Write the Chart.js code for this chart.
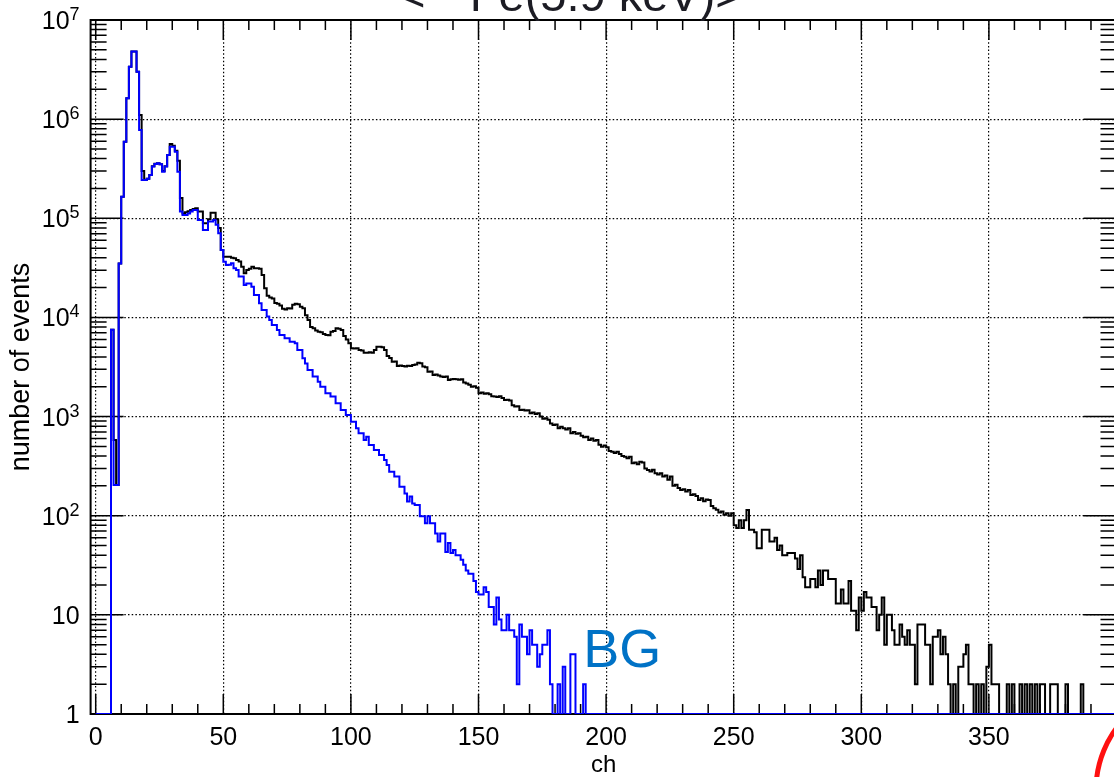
<!DOCTYPE html>
<html>
<head>
<meta charset="utf-8">
<title>number of events vs ch</title>
<script src="https://cdn.jsdelivr.net/npm/chart.js@4.4.1/dist/chart.umd.min.js"></script>
<style>
  html, body { margin: 0; padding: 0; background: #fff; overflow: hidden; }
  #wrap { position: relative; width: 1122px; height: 777px; }
</style>
</head>
<body>
<div id="wrap"><canvas id="specChart"></canvas></div>
<script>
// counts per channel, ch 0..399 (black = all events)
const allCounts = [
  0,0,0,0,0,0,7500,580,204,35000,
  165000,593000,1620000,3380000,4800000,4800000,3000000,1100000,300000,243000,
  250000,274000,335000,355000,360000,350000,300000,335000,435000,560000,
  540000,480000,380000,160000,112000,115000,118000,121000,124000,126000,
  117000,117000,89000,89000,98000,114000,114000,98000,80000,48000,
  41000,41000,41000,40000,39500,38000,36600,32500,27900,30100,
  31000,32500,31300,31300,31000,26800,19700,16500,15900,15500,
  14000,13700,13200,12200,12000,12400,12300,13400,13700,13600,
  12800,12400,10500,9420,8000,7770,7400,7190,7100,6800,
  6650,6600,7190,7300,7770,7700,7470,6500,6000,5480,
  4880,4850,4880,4700,4650,4410,4400,4450,4410,4700,
  5070,5070,5000,4700,4080,3900,3580,3600,3240,3280,
  3240,3200,3250,3240,3320,3350,3500,3450,3200,3150,
  2840,2850,2630,2650,2600,2530,2500,2530,2340,2380,
  2400,2380,2350,2380,2200,2160,2100,2000,2020,1950,
  1720,1750,1700,1720,1680,1600,1590,1580,1600,1540,
  1470,1480,1450,1300,1260,1270,1165,1170,1150,1160,
  1080,1100,1060,1080,1000,952,960,930,850,822,
  830,761,790,761,740,761,678,700,670,678,
  640,620,627,580,600,570,580,520,497,510,
  490,450,443,430,443,420,400,394,380,394,
  338,345,330,351,345,300,289,280,290,268,
  260,268,248,255,230,248,200,205,190,182,
  185,175,182,162,165,158,144,150,140,146,
  144,125,119,115,108,110,102,106,100,106,
  80,75,90,75,90,114,72,72,68,47,
  47,72,72,72,55,55,60,45,50,40,
  40,42,42,42,37,29,40,24,19,19,
  23,23,19,28,20,28,28,23,23,23,
  13,13,18,13,13,22,11,11,7,15,
  11,17,15,15,12,12,7,10,15,5,
  10,10,7,5,5,8,6,5,7,5,
  5,2,8,8,8,5,5,2,6,6,
  7,4,6,4,2,1,2,1,3,3,
  4,5,2,2,1,2,1,2,1,3,
  5,2,2,2,1,1,1,2,1,2,
  1,1,2,1,2,1,2,1,2,1,
  2,2,1,1,2,2,2,1,1,1,
  2,1,1,1,1,1,2,1,1,1,
  1,1,1,1,1,1,1,1,1,1
];

// background run (blue, "BG"), ch 0..399
const bgCounts = [
  0,0,0,0,0,0,7500,204,204,35000,
  165000,593000,1620000,3380000,4800000,4800000,3000000,778000,243000,243000,
  250000,274000,332000,353000,360000,350000,295000,332000,435000,528000,
  528000,470000,295000,117000,108000,108000,112000,117000,121000,121000,
  96000,96000,76000,76000,93000,93000,96000,86000,70600,48000,
  36500,33800,34000,35200,31300,30100,25800,25800,21200,22000,
  22000,20400,16800,16800,13900,11900,11900,10200,9420,8390,
  8390,7470,6650,6650,6160,6160,5700,5700,5480,4700,
  4700,3870,3440,2950,2950,2530,2530,2250,2000,2000,
  1720,1720,1590,1590,1360,1360,1165,1165,1038,1038,
  889,889,761,678,678,580,627,517,517,460,
  460,410,410,365,325,278,278,248,248,196,
  196,168,139,156,133,128,128,99,99,84,
  99,84,84,66,55,66,66,43,53,42,
  45,40,40,36,32,28,26,26,22,17,
  16,16,19,17,12,12,8,15,9,7,
  7,10,7,7,6,2,8,6,6,4,
  7,5,5,3,4,5,5,7,2,0,
  0,2,0,3,0,0,4,4,0,0,
  0,2,0,0,0,0,0,0,0,0,
  0,0,0,0,0,0,0,0,0,0, 0,0,0,0,0,0,0,0,0,0,
  0,0,0,0,0,0,0,0,0,0, 0,0,0,0,0,0,0,0,0,0,
  0,0,0,0,0,0,0,0,0,0, 0,0,0,0,0,0,0,0,0,0,
  0,0,0,0,0,0,0,0,0,0, 0,0,0,0,0,0,0,0,0,0,
  0,0,0,0,0,0,0,0,0,0, 0,0,0,0,0,0,0,0,0,0,
  0,0,0,0,0,0,0,0,0,0, 0,0,0,0,0,0,0,0,0,0,
  0,0,0,0,0,0,0,0,0,0, 0,0,0,0,0,0,0,0,0,0,
  0,0,0,0,0,0,0,0,0,0, 0,0,0,0,0,0,0,0,0,0,
  0,0,0,0,0,0,0,0,0,0, 0,0,0,0,0,0,0,0,0,0,
  0,0,0,0,0,0,0,0,0,0, 0,0,0,0,0,0,0,0,0,0
];

const xTickValues = [0, 50, 100, 150, 200, 250, 300, 350];
const yTickValues = [1, 10, 100, 1000, 10000, 100000, 1000000, 10000000];

const FONT = '"Liberation Sans", Arial, Helvetica, sans-serif';
const X_MIN = -2, X_MAX = 400, Y_MIN = 1, Y_MAX = 1e7;

// empty bins sit on the frame floor like ROOT draws them
function toSteps(counts){
    const pts = counts.map((v, i) => ({ x: i, y: Math.max(v, Y_MIN) }));
    pts.push({ x: counts.length, y: Math.max(counts[counts.length - 1], Y_MIN) });
    return pts;
}

// frame + inward ticks on all four sides
const frameTicks = {
    id: 'frameTicks',
    beforeDatasetsDraw(chart){
        const { ctx, chartArea: a, scales: { x, y } } = chart;
        ctx.save();
        ctx.strokeStyle = '#000';
        ctx.lineWidth = 1.5;
        ctx.beginPath();
        for(let v = 0; v < X_MAX; v += 10){
            const px = x.getPixelForValue(v);
            const len = v % 50 === 0 ? 20 : 10;
            ctx.moveTo(px, a.bottom); ctx.lineTo(px, a.bottom - len);
            ctx.moveTo(px, a.top); ctx.lineTo(px, a.top + len);
        }
        for(let d = 1; d < Y_MAX; d *= 10){
            for(let m = 1; m <= 9; m++){
                const py = y.getPixelForValue(d * m);
                const len = m === 1 ? 33 : 16;
                ctx.moveTo(a.left, py); ctx.lineTo(a.left + len, py);
                ctx.moveTo(a.right, py); ctx.lineTo(a.right - len, py);
            }
        }
        ctx.stroke();
        ctx.lineWidth = 2;
        ctx.strokeRect(a.left, a.top, a.right - a.left, a.bottom - a.top);
        ctx.restore();
    }
};

// y labels with real superscripts, header, BG tag, red marker
const annotations = {
    id: 'annotations',
    afterDraw(chart){
        const { ctx, chartArea: a, scales: { x, y } } = chart;
        ctx.save();
        ctx.fillStyle = '#000';
        ctx.textBaseline = 'alphabetic';
        ctx.textAlign = 'right';
        const right = a.left - 11;
        yTickValues.forEach(v => {
            const base = y.getPixelForValue(v) + 9;
            const e = Math.round(Math.log10(v));
            ctx.font = '25px ' + FONT;
            if(e <= 1){ ctx.fillText(String(v), right, base); return; }
            ctx.font = '18px ' + FONT;
            const ew = ctx.measureText(String(e)).width;
            ctx.fillText(String(e), right, base - 9);
            ctx.font = '25px ' + FONT;
            ctx.fillText('10', right - ew, base);
        });

        // header, mostly cut off by the top of the picture
        ctx.textAlign = 'left';
        ctx.fillStyle = '#1c1c24';
        ctx.font = '47px ' + FONT;
        ctx.fillText('<-- Fe(5.9 keV)>', 398, 11);

        ctx.fillStyle = '#0072c6';
        ctx.font = '54px ' + FONT;
        ctx.fillText('BG', x.getPixelForValue(191), y.getPixelForValue(3));

        ctx.strokeStyle = '#ff1010';
        ctx.lineWidth = 5;
        ctx.beginPath();
        ctx.arc(1200, 790, 104, Math.PI, Math.PI * 1.25);
        ctx.stroke();
        ctx.restore();
    }
};

const el = document.getElementById('specChart');
new Chart(el.getContext('2d'), {
    type: 'line',
    data: {
        datasets: [
            { label: 'BG', data: toSteps(bgCounts), borderColor: '#0000ff', borderWidth: 2,
              stepped: 'before', pointRadius: 0, fill: false, order: 0 },
            { label: 'all', data: toSteps(allCounts), borderColor: '#000000', borderWidth: 2,
              stepped: 'before', pointRadius: 0, fill: false, order: 1 }
        ]
    },
    options: {
        responsive: true,
        maintainAspectRatio: false,
        animation: false,
        layout: { padding: { top: 20, right: 5.5, left: 0, bottom: 0 } },
        plugins: { legend: { display: false }, tooltip: { enabled: false } },
        scales: {
            x: {
                type: 'linear', min: X_MIN, max: X_MAX,
                afterBuildTicks: s => { s.ticks = xTickValues.map(v => ({ value: v })); },
                afterFit: s => { s.height = 63; },
                grid: { color: '#000', lineWidth: 1.2, drawTicks: false },
                border: { display: false, dash: [1.5, 2.2] },
                ticks: { color: '#000', font: { family: FONT, size: 25 }, padding: 9, maxRotation: 0, autoSkip: false },
                title: { display: true, text: 'ch', color: '#000', font: { family: FONT, size: 24, lineHeight: 1 }, padding: 0 }
            },
            y: {
                type: 'logarithmic', min: Y_MIN, max: Y_MAX,
                afterBuildTicks: s => { s.ticks = yTickValues.map(v => ({ value: v })); },
                afterFit: s => { s.width = 90.6; },
                grid: { color: '#000', lineWidth: 1.2, drawTicks: false },
                border: { display: false, dash: [1.5, 2.2] },
                ticks: { display: false },
                title: { display: true, text: 'number of events', color: '#000', font: { family: FONT, size: 27, lineHeight: 1 }, padding: { top: 8 } }
            }
        }
    },
    plugins: [frameTicks, annotations]
});
</script>
</body>
</html>
